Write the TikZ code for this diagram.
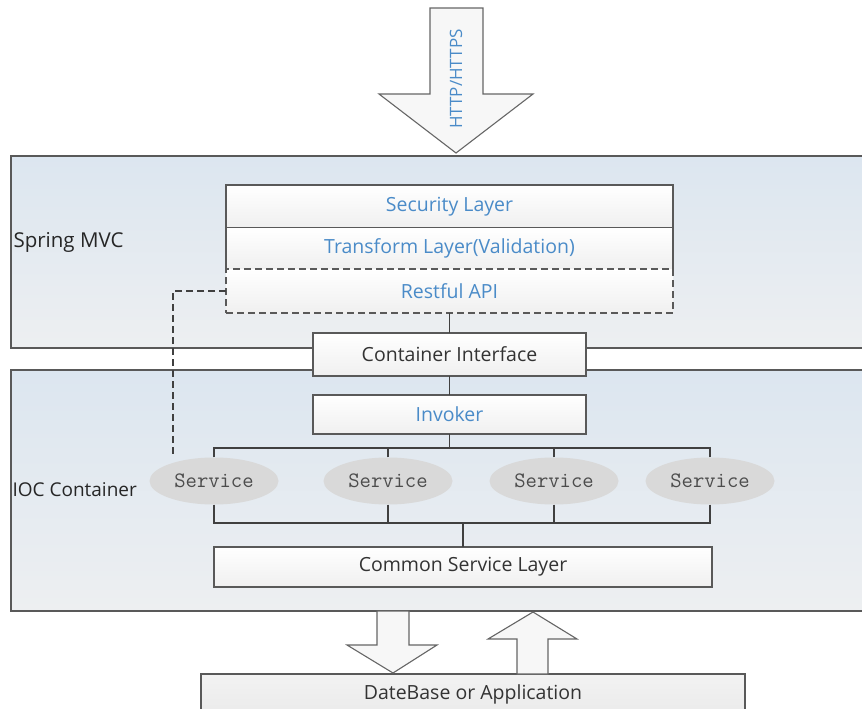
\documentclass[tikz,border=0pt]{standalone}
\usepackage{fontspec}
\setmainfont{Open Sans}
\usetikzlibrary{positioning}
\usetikzlibrary{shapes.geometric}
\definecolor{layerblue}{HTML}{4A8BC8}
\definecolor{layergray}{HTML}{333333}
\definecolor{paneltop}{HTML}{DCE6F0}
\definecolor{panelbot}{HTML}{EDEFF1}
\definecolor{svcgray}{HTML}{D9D9D9}

\begin{document}
\begin{tikzpicture}[x=1pt,y=-1pt,
panel/.style={draw=black!65,line width=1.2pt,top color=paneltop,bottom color=panelbot},
cell/.style={rectangle,draw=black!65,line width=1.1pt,top color=white,bottom color=black!6,inner sep=0pt,outer sep=0pt,minimum width=447pt,font=\fontsize{19.5}{21}\selectfont},
blue/.style={text=layerblue},
dark/.style={text=layergray},
longdash/.style={dash pattern=on 7pt off 4pt},
svc/.style={ellipse,fill=svcgray,minimum width=129pt,minimum height=47pt,inner sep=0pt,text=black!70,font=\ttfamily\fontsize{22}{24}\selectfont},
link/.style={draw=black!75,line width=1.1pt},
bigarrow/.style={draw=black!60,line width=1.1pt,fill=black!3},
lbl/.style={anchor=west,text=black!85,font=\fontsize{20.5}{22}\selectfont}]
\useasboundingbox (0,0) rectangle (862,709);
\clip (0,0) rectangle (862,709);

% panels
\draw[panel] (11,156) rectangle (872,348);
\draw[panel] (11,370) rectangle (872,611);
\node[lbl] (mvclbl) at (10,242) {Spring MVC};
\node[lbl,font=\fontsize{19}{21}\selectfont] (ioclbl) at (9,490) {IOC Container};

% request arrow
\draw[bigarrow] (430,8) -- (483,8) -- (483,94) -- (533,94) -- (456,153) -- (379,94) -- (430,94) -- cycle;
\node[rotate=90,text=layerblue,font=\fontsize{17}{19}\selectfont] (http) at (456,79) {HTTP/HTTPS};

% spring mvc stack
\node[cell,blue,minimum height=43pt] (sec) at (449.5,206.5) {Security Layer};
\node[cell,blue,minimum height=41pt,draw=none,below=0pt of sec] (tf) {Transform Layer(Validation)};
\draw[link,draw=black!65] (tf.south west) -- (tf.north west) (tf.north east) -- (tf.south east);
\node[cell,blue,minimum height=44pt,longdash,below=0pt of tf] (rest) {Restful API};

\node[cell,dark,minimum width=273pt,minimum height=43pt] (ci) at (449.5,354.5) {Container Interface};
\node[cell,blue,minimum width=273pt,minimum height=39pt] (inv) at (449.5,414.5) {Invoker};

% services
\node[svc] (s1) at (214,481) {Service};
\node[svc] (s2) at (388,481) {Service};
\node[svc] (s3) at (554,481) {Service};
\node[svc] (s4) at (710,481) {Service};

\node[cell,dark,minimum width=498pt,minimum height=40pt] (csl) at (463,567) {Common Service Layer};
\node[cell,dark,minimum width=544pt,minimum height=40pt,top color=black!5,bottom color=black!8] (db) at (473,694) {DateBase or Application};

% connectors
\draw[link] (rest.south) -- (ci.north);
\draw[link] (ci.south) -- (inv.north);
\draw[link] (inv.south) -- ++(0,14) coordinate (fork);
\foreach \s in {s1,s2,s3,s4}
  \draw[link] (\s.north) |- (fork);
\draw[link] (csl.north) -- ++(0,-24) coordinate (join);
\foreach \s in {s1,s2,s3,s4}
  \draw[link] (\s.south) |- (join);
\draw[link,longdash] (rest.west) -- ++(-53,0) coordinate (bend) -- (bend |- s1.north);

% data arrows
\draw[bigarrow] (377,611) -- (409,611) -- (409,645) -- (437,645) -- (393,673) -- (347,645) -- (377,645) -- cycle;
\draw[bigarrow] (517,674) -- (517,639) -- (488,639) -- (533,612) -- (577,639) -- (548,639) -- (548,674) -- cycle;

\end{tikzpicture}
\end{document}
